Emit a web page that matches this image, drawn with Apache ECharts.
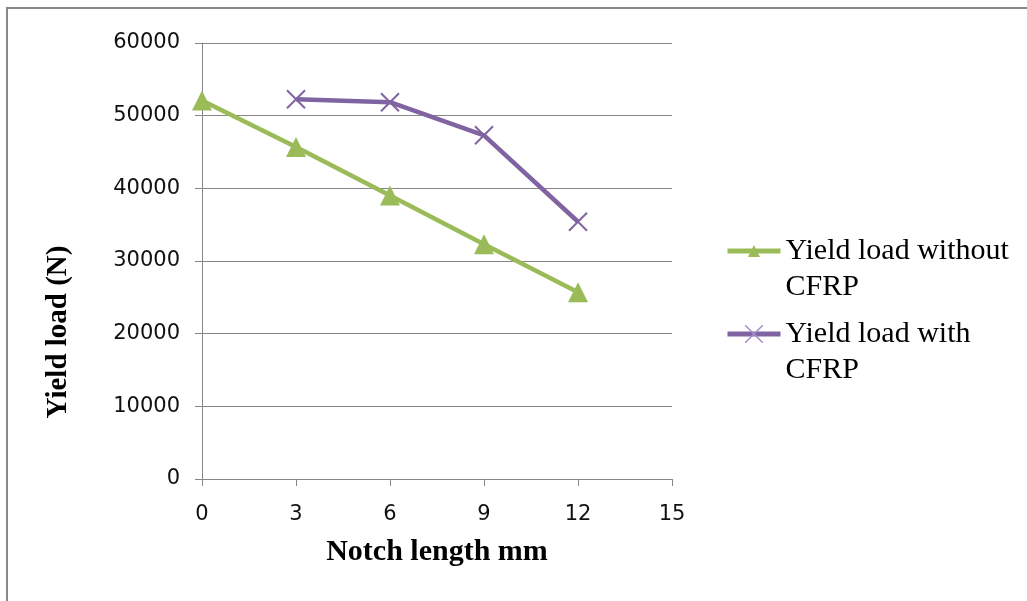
<!DOCTYPE html>
<html>
<head>
<meta charset="utf-8">
<script src="https://cdn.jsdelivr.net/npm/echarts@6/dist/echarts.min.js"></script>
<style>html,body{margin:0;padding:0;background:#fff}#c{width:1027px;height:601px}</style>
</head>
<body>
<div id="c"></div>
<script>
const notchLength = [0, 3, 6, 9, 12];
const withoutCFRP = [52100, 45700, 39000, 32300, 25700];
const withCFRPx = [3, 6, 9, 12];
const withCFRP = [52250, 51850, 47300, 35400];
const yTicks = [0, 10000, 20000, 30000, 40000, 50000, 60000];
const xTicks = [0, 3, 6, 9, 12, 15];
const names = ['Yield load without\nCFRP', 'Yield load with\nCFRP'];

const chart = echarts.init(document.getElementById('c'), null, {renderer: 'canvas'});
const axisCol = '#868686';
const xPath = 'path://M0,0L10,10M10,0L0,10';
const legendText = {fontFamily: 'Liberation Serif', fontSize: 30, color: '#000', lineHeight: 36};
const legendFmt = n => '\u00a0\n' + n;

chart.setOption({
  animation: false,
  backgroundColor: '#fff',
  graphic: [
    {type: 'rect', shape: {x: 7, y: 8, width: 1040, height: 620}, style: {fill: 'none', stroke: '#888', lineWidth: 2}, silent: true},
    {type: 'text', x: 59, y: 332, rotation: Math.PI / 2,
     style: {text: 'Yield load (N)', fontFamily: 'Liberation Serif', fontWeight: 'bold', fontSize: 29, fill: '#000', align: 'center', verticalAlign: 'middle'}}
  ],
  grid: {left: 202, right: 355, top: 43, bottom: 122},
  legend: [
    {data: [names[0]], left: 725, top: 197, padding: 0, orient: 'vertical', itemWidth: 53, itemHeight: 15,
     formatter: legendFmt, textStyle: legendText, lineStyle: {width: 5}},
    {data: [names[1]], left: 725, top: 280, padding: 0, orient: 'vertical', itemWidth: 53, itemHeight: 22,
     formatter: legendFmt, textStyle: legendText, lineStyle: {width: 5},
     itemStyle: {borderColor: '#A590C8', borderWidth: 1.5}}
  ],
  xAxis: {
    type: 'value', min: xTicks[0], max: xTicks[xTicks.length - 1], interval: 3,
    name: 'Notch length mm', nameLocation: 'middle', nameGap: 58,
    nameTextStyle: {fontFamily: 'Liberation Serif', fontWeight: 'bold', fontSize: 30, color: '#000'},
    axisLine: {show: true, lineStyle: {color: axisCol, width: 1}},
    axisTick: {show: true, inside: false, length: 7, lineStyle: {color: axisCol}},
    axisLabel: {margin: 25, fontFamily: 'DejaVu Sans', fontSize: 21, color: '#111'},
    splitLine: {show: false}
  },
  yAxis: {
    type: 'value', min: yTicks[0], max: yTicks[yTicks.length - 1], interval: 10000,
    axisLine: {show: true, lineStyle: {color: axisCol, width: 1}},
    axisTick: {show: true, inside: false, length: 7, lineStyle: {color: axisCol}},
    axisLabel: {margin: 22, fontFamily: 'DejaVu Sans', fontSize: 21, color: '#111', formatter: v => String(v)},
    splitLine: {show: true, lineStyle: {color: axisCol, width: 1}}
  },
  series: [
    {
      name: names[0], type: 'line',
      data: notchLength.map((x, i) => [x, withoutCFRP[i]]),
      symbol: 'triangle', symbolSize: 20, showAllSymbol: true,
      lineStyle: {color: '#9BBB59', width: 4.5},
      itemStyle: {color: '#9BBB59'}
    },
    {
      name: names[1], type: 'line',
      data: withCFRPx.map((x, i) => [x, withCFRP[i]]),
      symbol: xPath, symbolSize: 18, showAllSymbol: true,
      lineStyle: {color: '#8064A2', width: 4.5},
      itemStyle: {color: '#8064A2', borderColor: '#8064A2', borderWidth: 2}
    }
  ]
});
</script>
</body>
</html>
